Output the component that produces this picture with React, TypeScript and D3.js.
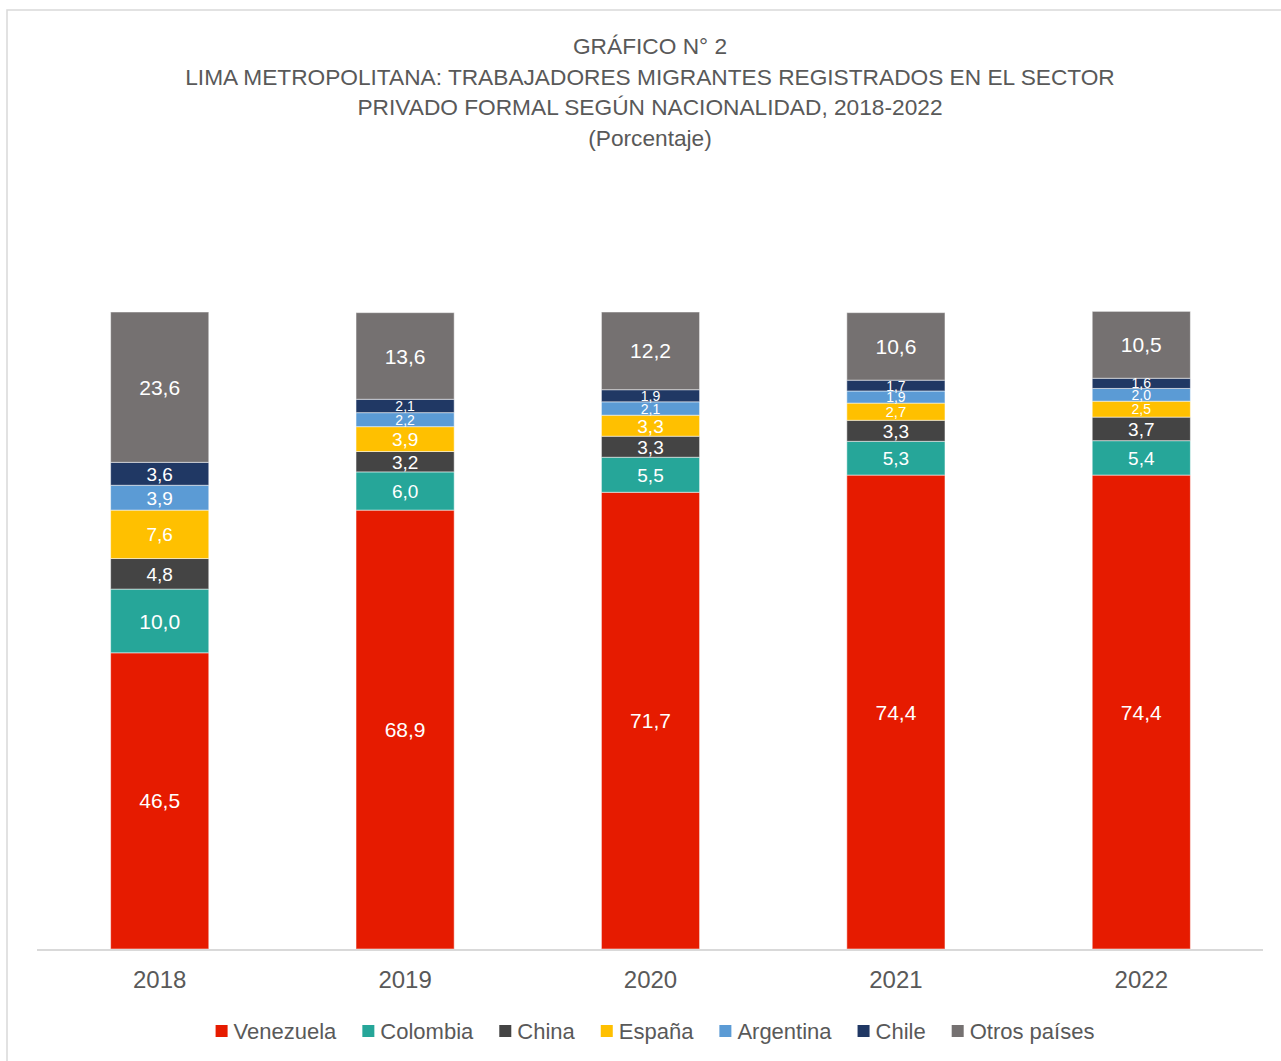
import * as d3 from "d3";

const years = ["2018", "2019", "2020", "2021", "2022"];
const series = ["Venezuela", "Colombia", "China", "España", "Argentina", "Chile", "Otros países"];
const colors = ["#E61B00", "#26A699", "#444444", "#FFC000", "#5B9BD5", "#203864", "#757171"];

const venezuela = [46.5, 68.9, 71.7, 74.4, 74.4];
const colombia = [10.0, 6.0, 5.5, 5.3, 5.4];
const china = [4.8, 3.2, 3.3, 3.3, 3.7];
const espana = [7.6, 3.9, 3.3, 2.7, 2.5];
const argentina = [3.9, 2.2, 2.1, 1.9, 2.0];
const chile = [3.6, 2.1, 1.9, 1.7, 1.6];
const otros = [23.6, 13.6, 12.2, 10.6, 10.5];

const titleLines = [
  "GRÁFICO N° 2",
  "LIMA METROPOLITANA: TRABAJADORES MIGRANTES REGISTRADOS EN EL SECTOR",
  "PRIVADO FORMAL SEGÚN NACIONALIDAD, 2018-2022",
  "(Porcentaje)",
];

const W = 1281;
const H = 1061;
const FONT = "'Liberation Sans', Arial, sans-serif";
const TEXT = "#595959";

const fmt = (v: number) => v.toFixed(1).replace(".", ",");

function textWidth(str: string, size: number) {
  const ctx = document.createElement("canvas").getContext("2d");
  if (!ctx) return str.length * size * 0.5;
  ctx.font = `${size}px ${FONT}`;
  return ctx.measureText(str).width;
}

export default function App() {
  const values = [venezuela, colombia, china, espana, argentina, chile, otros];
  const rows = years.map((y, i) => {
    const r: Record<string, any> = { year: y };
    series.forEach((s, k) => (r[s] = values[k][i]));
    return r;
  });
  const stacked = d3.stack<any>().keys(series)(rows);

  const x = d3.scaleBand().domain(years).range([37, 1264]).paddingInner(0.6).paddingOuter(0.3);
  const y = d3.scaleLinear().domain([0, 100]).range([949, 312]);

  // legend layout, centred
  const legendSize = 22;
  const sq = 12;
  const items = series.map((s) => ({ s, w: textWidth(s, legendSize) }));
  const itemW = items.map((it) => sq + 6 + it.w);
  const gap = 26;
  const total = d3.sum(itemW) + gap * (items.length - 1);
  let cursor = 655 - total / 2;
  const legendPos = itemW.map((w) => {
    const p = cursor;
    cursor += w + gap;
    return p;
  });

  return (
    <svg
      width={W}
      height={H}
      style={{ position: "absolute", left: 0, top: 0, display: "block", background: "#fff" }}
      fontFamily={FONT}
    >
      <rect x={7} y={10} width={W + 20} height={H + 20} fill="#fff" stroke="#d9d9d9" strokeWidth={1.5} />

      {titleLines.map((t, i) => (
        <text key={i} x={650} y={54 + i * 30.5} textAnchor="middle" fontSize={22.7} fill={TEXT}>
          {t}
        </text>
      ))}

      {stacked.map((layer, k) => (
        <g key={layer.key} fill={colors[k]}>
          {layer.map((d, i) => (
            <rect
              key={i}
              x={x(years[i])}
              width={x.bandwidth()}
              y={y(d[1])}
              height={y(d[0]) - y(d[1])}
              stroke="#fff"
              strokeOpacity={0.5}
              strokeWidth={1}
            />
          ))}
        </g>
      ))}

      {stacked.map((layer, k) => (
        <g key={"l" + layer.key}>
          {layer.map((d, i) => {
            const h = y(d[0]) - y(d[1]);
            const size = h < 16 ? 14 : h < 20 ? 15 : h < 50 ? 19 : 21;
            return (
              <text
                key={i}
                x={(x(years[i]) ?? 0) + x.bandwidth() / 2}
                y={(y(d[0]) + y(d[1])) / 2}
                dy="0.36em"
                textAnchor="middle"
                fontSize={size}
                fill="#fff"
              >
                {fmt(d[1] - d[0])}
              </text>
            );
          })}
        </g>
      ))}

      <line x1={37} x2={1263} y1={950} y2={950} stroke="#d9d9d9" strokeWidth={2} />

      {years.map((yr) => (
        <text
          key={yr}
          x={(x(yr) ?? 0) + x.bandwidth() / 2}
          y={988}
          textAnchor="middle"
          fontSize={24}
          fill={TEXT}
        >
          {yr}
        </text>
      ))}

      {items.map((it, k) => (
        <g key={it.s} transform={`translate(${legendPos[k]},1031)`}>
          <rect x={0} y={-sq / 2} width={sq} height={sq} fill={colors[k]} />
          <text x={sq + 6} y={0} dy="0.36em" fontSize={legendSize} fill={TEXT}>
            {it.s}
          </text>
        </g>
      ))}
    </svg>
  );
}
